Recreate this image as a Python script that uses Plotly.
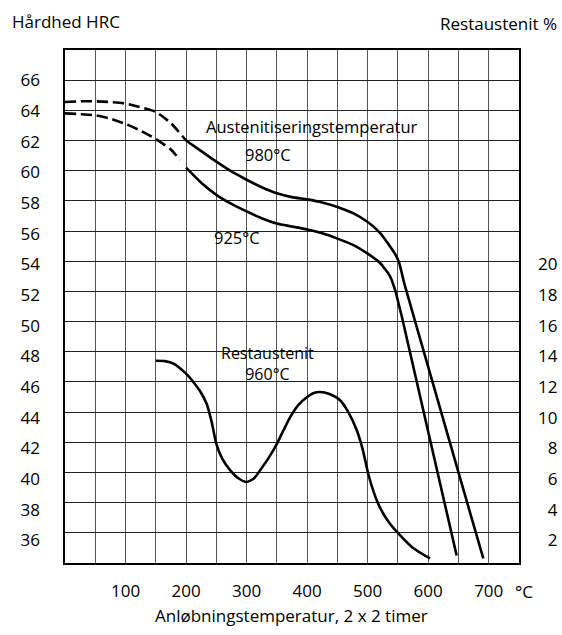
import plotly.graph_objects as go

# ---------------- data ----------------
# Hardness, austenitised at 980 °C (dashed = extrapolated part)
temp_980_dash = [0, 25, 50, 75, 100, 125, 150, 175, 200]
hrc_980_dash = [64.55, 64.6, 64.6, 64.55, 64.45, 64.2, 63.9, 63.15, 62.0]
temp_980 = [200, 225, 250, 275, 300, 325, 350, 375, 400, 425, 450, 475, 500,
            520, 535, 545, 552, 560, 600, 650, 691]
hrc_980 = [62.0, 61.3, 60.6, 59.95, 59.4, 58.9, 58.5, 58.25, 58.1, 57.9, 57.6,
           57.2, 56.6, 55.9, 55.1, 54.5, 53.9, 52.6, 47.0, 40.0, 34.3]

# Hardness, austenitised at 925 °C
temp_925_dash = [0, 25, 50, 75, 100, 125, 150, 175, 190]
hrc_925_dash = [63.8, 63.75, 63.67, 63.45, 63.1, 62.65, 62.1, 61.4, 60.7]
temp_925 = [200, 225, 250, 275, 300, 325, 350, 375, 400, 425, 450, 475, 500,
            520, 537, 546, 551, 556, 600, 647]
hrc_925 = [60.2, 59.2, 58.4, 57.8, 57.3, 56.85, 56.5, 56.3, 56.1, 55.85, 55.5,
           55.1, 54.5, 53.9, 53.0, 52.0, 51.2, 50.4, 42.7, 34.5]

# Retained austenite (%), austenitised at 960 °C
temp_ra = [150, 165, 180, 200, 212, 223, 234, 242, 250, 260, 273, 287, 300,
           312, 325, 337, 350, 361, 372, 386, 400, 410, 421, 437, 454, 468,
           482, 492, 501, 510, 520, 535, 551, 575, 603]
ra_960 = [13.4, 13.38, 13.2, 12.55, 12.0, 11.4, 10.56, 9.4, 7.9, 6.9, 6.14,
          5.6, 5.37, 5.6, 6.3, 7.0, 7.9, 8.8, 9.67, 10.5, 11.0, 11.25, 11.33,
          11.2, 10.8, 10.0, 8.8, 7.5, 5.9, 4.7, 3.7, 2.7, 1.95, 1.0, 0.3]

# tick labels
x_tick_vals = [100, 200, 300, 400, 500, 600, 700]
x_tick_text = ["100", "200", "300", "400", "500", "600", "700"]
hrc_tick_vals = [36, 38, 40, 42, 44, 46, 48, 50, 52, 54, 56, 58, 60, 62, 64, 66]
ra_tick_vals = [2, 4, 6, 8, 10, 12, 14, 16, 18, 20]

FONT = "Open Sans"
FS = 17
FS_IN = 16.5

fig = go.Figure()

line_style = dict(color="black", width=2.6, shape="spline", smoothing=0.6)
dash_style = dict(color="black", width=2.6, shape="spline", smoothing=0.6, dash="11px,5px")

fig.add_trace(go.Scatter(x=temp_980_dash, y=hrc_980_dash, mode="lines", line=dash_style,
                         hoverinfo="skip", showlegend=False))
fig.add_trace(go.Scatter(x=temp_980, y=hrc_980, mode="lines", line=line_style,
                         hoverinfo="skip", showlegend=False))
fig.add_trace(go.Scatter(x=temp_925_dash, y=hrc_925_dash, mode="lines", line=dash_style,
                         hoverinfo="skip", showlegend=False))
fig.add_trace(go.Scatter(x=temp_925, y=hrc_925, mode="lines", line=line_style,
                         hoverinfo="skip", showlegend=False))
fig.add_trace(go.Scatter(x=temp_ra, y=ra_960, mode="lines", line=line_style, yaxis="y2",
                         hoverinfo="skip", showlegend=False))
# label-only axes (tick labels in the original drift slightly from the grid)
fig.add_trace(go.Scatter(x=[None], y=[None], yaxis="y3", showlegend=False, hoverinfo="skip"))
fig.add_trace(go.Scatter(x=[None], y=[None], yaxis="y4", showlegend=False, hoverinfo="skip"))

all_x = list(range(0, 751, 50))
all_x_text = [x_tick_text[x_tick_vals.index(v)] if v in x_tick_vals else "" for v in all_x]

fig.update_layout(
    width=562, height=635,
    margin=dict(l=65, r=43, t=50, b=72, autoexpand=False),
    paper_bgcolor="white", plot_bgcolor="white",
    font=dict(family=FONT, size=FS, color="black"),
    xaxis=dict(range=[0, 750], tickmode="array", tickvals=all_x, ticktext=all_x_text,
               showgrid=True, gridcolor="#555555", gridwidth=1, zeroline=False,
               showline=True, linecolor="black", linewidth=1.5, mirror=True,
               ticks="", ticklabelstandoff=12, automargin=False, fixedrange=True),
    yaxis=dict(range=[34, 68], tickmode="linear", tick0=34, dtick=2,
               showticklabels=False, showgrid=True, gridcolor="#222222", gridwidth=1,
               zeroline=False, showline=True, linecolor="black", linewidth=1.5,
               mirror=True, ticks="", automargin=False),
    yaxis2=dict(range=[0, 34], overlaying="y", side="right", showgrid=False,
                zeroline=False, showticklabels=False, ticks="", automargin=False),
    yaxis3=dict(range=[34.52, 67.98], overlaying="y", side="left", showgrid=False,
                zeroline=False, tickmode="array", tickvals=hrc_tick_vals,
                ticktext=[str(v) for v in hrc_tick_vals], ticks="",
                ticklabelstandoff=24, automargin=False),
    yaxis4=dict(range=[0.52, 33.98], overlaying="y", side="right", showgrid=False,
                zeroline=False, tickmode="array", tickvals=ra_tick_vals,
                ticktext=[f"{v:>2}".replace(" ", "\u2007") for v in ra_tick_vals],
                ticks="", ticklabelstandoff=18, automargin=False),
)

ann = [
    dict(text="Hårdhed HRC", xref="paper", yref="paper", x=-0.1211, y=1.0565,
         xanchor="left", yanchor="middle", size=FS),
    dict(text="Restaustenit %", xref="paper", yref="paper", x=1.0881, y=1.0507,
         xanchor="right", yanchor="middle", size=FS),
    dict(text="Anløbningstemperatur, 2 x 2 timer", xref="paper", yref="paper",
         x=0.4978, y=-0.1033, xanchor="center", yanchor="middle", size=FS),
    dict(text="°C", xref="paper", yref="paper", x=0.9874, y=-0.0546,
         xanchor="left", yanchor="middle", size=FS),
    dict(text="Austenitiseringstemperatur", xref="paper", yref="paper",
         x=(312 - 65) / 454, y=(563 - 126) / 513, xanchor="center", yanchor="middle",
         size=FS_IN),
    dict(text="980°C", xref="paper", yref="paper",
         x=(268 - 65) / 454, y=(563 - 154.5) / 513, xanchor="center", yanchor="middle",
         size=FS_IN),
    dict(text="925°C", xref="paper", yref="paper",
         x=(237 - 65) / 454, y=(563 - 237) / 513, xanchor="center", yanchor="middle",
         size=FS_IN),
    dict(text="Restaustenit<br>960°C", xref="paper", yref="paper",
         x=(267 - 65) / 454, y=(563 - 363) / 513, xanchor="center", yanchor="middle",
         size=16),
]
for a in ann:
    s = a.pop("size")
    a.update(showarrow=False, font=dict(family=FONT, size=s, color="black"))
fig.update_layout(annotations=ann)

fig.write_html("out.html", config={"displayModeBar": False},
               post_script="document.body.style.margin='0';")
